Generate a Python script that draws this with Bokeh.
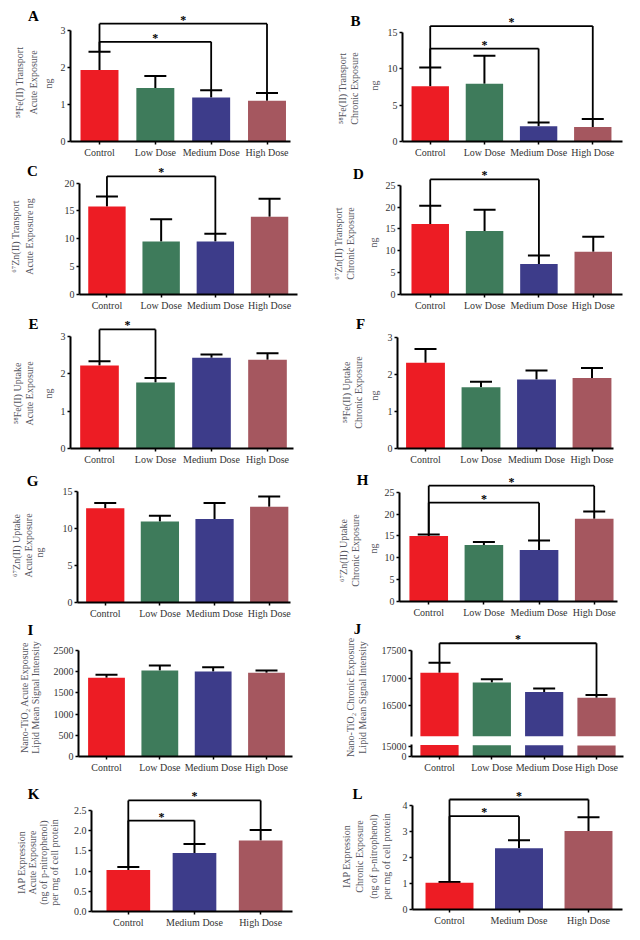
import math
from bokeh.plotting import figure
from bokeh.models import (Range1d, FixedTicker, Whisker, TeeHead, ColumnDataSource,
                          Label, PrintfTickFormatter)
from bokeh.layouts import row, column
from bokeh.embed import file_html
from bokeh.resources import INLINE
from bokeh.core.properties import value

# ---------------- data ----------------
doses4 = ["Control", "Low Dose", "Medium Dose", "High Dose"]
doses3 = ["Control", "Medium Dose", "High Dose"]

colors4 = ["#ED1C24", "#3E7B5B", "#3D3C8A", "#A5575F"]
colors3 = ["#ED1C24", "#3D3C8A", "#A5575F"]

# A  58Fe(II) transport, acute
a_mean = [1.93, 1.44, 1.19, 1.10]
a_sem = [0.49, 0.33, 0.19, 0.21]
a_sig = [[0, 3, 3.18], [0, 2, 2.69]]
a_ticks = [0, 1, 2, 3]

# B  58Fe(II) transport, chronic
b_mean = [7.6, 7.95, 2.1, 2.0]
b_sem = [2.6, 3.85, 0.5, 1.1]
b_sig = [[0, 3, 15.9], [0, 2, 12.8]]
b_ticks = [0, 5, 10, 15]

# C  67Zn(II) transport, acute
c_mean = [15.8, 9.5, 9.5, 13.95]
c_sem = [1.8, 4.0, 1.4, 3.25]
c_sig = [[0, 2, 21.2]]
c_ticks = [0, 5, 10, 15, 20]

# D  67Zn(II) transport, chronic
d_mean = [16.1, 14.5, 7.0, 9.8]
d_sem = [4.2, 4.9, 1.9, 3.4]
d_sig = [[0, 2, 26.3]]
d_ticks = [0, 5, 10, 15, 20, 25]

# E  58Fe(II) uptake, acute
e_mean = [2.22, 1.77, 2.43, 2.38]
e_sem = [0.12, 0.12, 0.09, 0.17]
e_sig = [[0, 1, 3.19]]
e_ticks = [0, 1, 2, 3]

# F  58Fe(II) uptake, chronic
f_mean = [2.31, 1.65, 1.86, 1.90]
f_sem = [0.37, 0.15, 0.24, 0.27]
f_sig = []
f_ticks = [0, 1, 2, 3]

# G  67Zn(II) uptake, acute
g_mean = [12.7, 10.9, 11.26, 12.9]
g_sem = [0.7, 0.8, 2.14, 1.4]
g_sig = []
g_ticks = [0, 5, 10, 15]

# H  67Zn(II) uptake, chronic
h_mean = [15.0, 12.9, 11.8, 18.9]
h_sem = [0.3, 0.7, 2.15, 1.7]
h_sig = [[0, 3, 26.5], [0, 2, 22.6]]
h_ticks = [0, 5, 10, 15, 20, 25]

# I  Nano-TiO2 acute, lipid signal
i_mean = [1855, 2028, 2005, 1973]
i_sem = [71, 118, 102, 55]
i_sig = []
i_ticks = [0, 500, 1000, 1500, 2000, 2500]

# J  Nano-TiO2 chronic, lipid signal (broken axis)
j_mean = [17096, 16916, 16747, 16639]
j_sem = [181, 60, 60, 54]
j_sig = [[0, 3, 17632]]
j_ticks_upper = [16500, 17000, 17500]
j_ticks_lower = [0, 15000]

# K  IAP expression, acute
k_mean = [1.03, 1.45, 1.76]
k_sem = [0.07, 0.22, 0.26]
k_sig = [[0, 2, 2.75], [0, 1, 2.25]]
k_ticks = [0.0, 0.5, 1.0, 1.5, 2.0, 2.5]

# L  IAP expression, chronic
l_mean = [1.03, 2.36, 3.02]
l_sem = [0.03, 0.30, 0.53]
l_sig = [[0, 2, 4.23], [0, 1, 3.59]]
l_ticks = [0, 1, 2, 3, 4]

labels = {
    "A": "\u2075\u2078Fe(II) Transport\nAcute Exposure",
    "B": "\u2075\u2078Fe(II) Transport\nChronic Exposure",
    "C": "\u2076\u2077Zn(II) Transport\nAcute Exposure ng",
    "D": "\u2076\u2077Zn(II) Transport\nChronic Exposure",
    "E": "\u2075\u2078Fe(II) Uptake\nAcute Exposure",
    "F": "\u2075\u2078Fe(II) Uptake\nChronic Exposure",
    "G": "\u2076\u2077Zn(II) Uptake\nAcute Exposure",
    "H": "\u2076\u2077Zn(II) Uptake\nChronic Exposure",
    "I": "Nano-TiO\u2082 Acute Exposure\nLipid Mean Signal Intensity",
    "J": "Nano-TiO\u2082 Chronic Exposure\nLipid Mean Signal Intensity",
    "K": "IAP Expression\nAcute Exposure\n(ng of p-nitrophenol)\nper mg of cell protein",
    "L": "IAP Expression\nChronic Exposure\n(ng of p-nitrophenol)\nper mg of cell protein",
}
unit = "ng"

# ---------------- layout geometry (page pixels) ----------------
FONT = "Liberation Serif"
COLW = 320
ROWS = [(0, 160), (160, 313), (313, 470), (470, 622), (622, 780), (780, 940)]
LEFT, RIGHT = 0, 320
LABEL_COLOR = "#555560"

# ax: y-axis x, xe: x-axis end, c: first/last bar centre, z: zero y,
# ref: (tick value, its y), let: letter position, blk: label block centre,
# unit: "ng" position, ts: room for tick labels, lh: label line height
geom = {
    "A": dict(col=LEFT, row=0, ax=70, xe=290, c=(99, 266.5), z=142, ref=(3, 30), let=(33, 15),
              blk=(26, 82), unit=(48, 83), ts=13, lh=1.25, bw=0.68),
    "B": dict(col=RIGHT, row=0, ax=400, xe=622, c=(428, 592), z=142, ref=(15, 32.3), let=(355, 20),
              blk=(348, 88), unit=(374, 85), ts=16, lh=1.05, bw=0.69),
    "C": dict(col=LEFT, row=1, ax=77, xe=297, c=(104.7, 268.8), z=295, ref=(20, 182.7), let=(32, 170),
              blk=(22, 236), unit=None, ts=16, lh=1.25, bw=0.69),
    "D": dict(col=RIGHT, row=1, ax=398, xe=622, c=(428, 592.5), z=296, ref=(25, 185), let=(358, 173),
              blk=(344, 243), unit=(373, 242), ts=16, lh=1.05, bw=0.69),
    "E": dict(col=LEFT, row=2, ax=70, xe=293, c=(99, 267), z=448, ref=(3, 336), let=(33, 323),
              blk=(23, 393), unit=(48, 393), ts=13, lh=1.1, bw=0.69),
    "F": dict(col=RIGHT, row=2, ax=397, xe=613, c=(425, 591.5), z=448, ref=(3, 336.7), let=(360, 323),
              blk=(352, 392), unit=(374, 395), ts=13, lh=1.1, bw=0.70),
    "G": dict(col=LEFT, row=3, ax=75, xe=290, c=(103, 268.5), z=602, ref=(15, 490.7), let=(32, 480),
              blk=(22, 545), unit=(39, 552), ts=16, lh=1.1, bw=0.70),
    "H": dict(col=RIGHT, row=3, ax=397, xe=617, c=(426.5, 593.5), z=601, ref=(25, 491.7), let=(362, 479),
              blk=(349, 550), unit=(373, 548), ts=16, lh=1.05, bw=0.70),
    "I": dict(col=LEFT, row=4, ax=78, xe=292, c=(106, 266), z=756, ref=(2500, 650), let=(30, 629),
              blk=(29, 697), unit=None, ts=28, lh=1.0, bw=0.69),
    "K": dict(col=LEFT, row=5, ax=90, xe=292, c=(127, 260), z=911, ref=(2.5, 810), let=(33, 793),
              blk=(37, 862), unit=None, ts=20, lh=1.0, bw=0.66),
    "L": dict(col=RIGHT, row=5, ax=412, xe=622, c=(449, 588), z=909, ref=(4, 805), let=(357, 793),
              blk=(366, 856), unit=None, ts=14, lh=1.2, bw=0.69),
}


def style(p):
    p.xgrid.visible = False
    p.ygrid.visible = False
    p.outline_line_color = None
    p.background_fill_color = "white"
    p.border_fill_color = "white"
    for ax in list(p.xaxis) + list(p.yaxis):
        ax.axis_line_width = 2
        ax.axis_line_color = "black"
        ax.major_tick_line_width = 1.5
        ax.major_tick_line_color = "black"
        ax.major_tick_out = 3
        ax.major_tick_in = 0
        ax.minor_tick_out = 0
        ax.minor_tick_in = 0
        ax.major_label_text_font = FONT
        ax.major_label_text_font_size = "10px"
        ax.major_label_text_color = "#333333"
        ax.major_label_standoff = 2


def side_fig(key, w, col, rt, rb, let, blk, unit_xy, lh):
    h = rb - rt
    s = figure(width=w, height=h, x_range=Range1d(0, 1), y_range=Range1d(0, 1),
               min_border=0, x_axis_location=None, y_axis_location=None,
               toolbar_location=None, output_backend="svg")
    s.grid.visible = False
    s.outline_line_color = None
    s.border_fill_color = "white"
    s.add_layout(Label(x=let[0] - col, y=rb - let[1], x_units="screen", y_units="screen",
                       text=key, text_font=FONT, text_font_size="15px", text_font_style="bold",
                       text_align="center", text_baseline="middle", text_color="black"))
    s.add_layout(Label(x=blk[0] - col, y=rb - blk[1], x_units="screen", y_units="screen",
                       text=labels[key], angle=math.pi / 2, text_font=FONT, text_font_size="10px",
                       text_line_height=lh, text_align="center", text_baseline="middle",
                       text_color=LABEL_COLOR))
    if unit_xy is not None:
        s.add_layout(Label(x=unit_xy[0] - col, y=rb - unit_xy[1], x_units="screen", y_units="screen",
                           text=unit, angle=math.pi / 2, text_font=FONT, text_font_size="10px",
                           text_line_height=1.0, text_align="center", text_baseline="middle",
                           text_color=LABEL_COLOR))
    # wrapped in a column so its frame is not aligned with the neighbouring plot
    return column(s)


def xrange_for(n, ax, xe, c):
    c0, cn = c
    s = (cn - c0) / (n - 1)
    return Range1d(-(c0 - ax) / s, (n - 1) + (xe - cn) / s)


def draw_bars(p, cats, means, sems, sig, colors, bw):
    n = len(cats)
    xs = list(range(n))
    p.vbar(x=xs, top=means, bottom=0, width=bw, fill_color=colors, line_color=None)
    tops = [m + e for m, e in zip(means, sems)]
    src = ColumnDataSource(dict(x=xs, lo=means, hi=tops))
    p.add_layout(Whisker(source=src, base="x", lower="lo", upper="hi", dimension="height",
                         line_width=2, line_color="black",
                         upper_head=TeeHead(size=22, line_width=2, line_color="black"),
                         lower_head=None))
    for a, b, h in sig:
        p.segment(x0=[a, a, b], y0=[h, h, h], x1=[b, a, b], y1=[h, tops[a], tops[b]],
                  line_width=1.8, line_color="black")
        p.text(x=[(a + b) / 2], y=[h], text=["*"], text_font=value(FONT),
               text_font_size="12px", text_font_style="bold", text_align="center",
               text_baseline="middle", y_offset=-4, text_color="black")


def set_xaxis(p, cats):
    p.xaxis.ticker = FixedTicker(ticks=list(range(len(cats))))
    p.xaxis.major_label_overrides = {i: c for i, c in enumerate(cats)}


def panel(key, cats, means, sems, sig, ticks, colors, fmt=None):
    g = geom[key]
    rt, rb = ROWS[g["row"]]
    n = len(cats)
    side_w = int(round(g["ax"] - g["col"] - g["ts"]))
    main_w = COLW - side_w
    frame_top = rt + 2
    rv, ry = g["ref"]
    ppu = (g["z"] - ry) / rv
    yend = (g["z"] - frame_top) / ppu
    mbl = int(round(g["ax"] - g["col"])) - side_w
    fw = int(round(g["xe"] - g["ax"]))
    p = figure(width=main_w, height=rb - rt, x_range=xrange_for(n, g["ax"], g["xe"], g["c"]),
               y_range=Range1d(0, yend),
               min_border_left=mbl, min_border_right=main_w - mbl - fw,
               min_border_top=2, min_border_bottom=int(round(rb - g["z"])),
               toolbar_location=None, output_backend="svg")
    draw_bars(p, cats, means, sems, sig, colors, g["bw"])
    set_xaxis(p, cats)
    p.yaxis.ticker = FixedTicker(ticks=ticks)
    p.yaxis.bounds = (0, ticks[-1])
    if fmt:
        p.yaxis.formatter = fmt
    style(p)
    s = side_fig(key, side_w, g["col"], rt, rb, g["let"], g["blk"], g["unit"], g["lh"])
    return row(s, column(p))


pA = panel("A", doses4, a_mean, a_sem, a_sig, a_ticks, colors4)
pB = panel("B", doses4, b_mean, b_sem, b_sig, b_ticks, colors4)
pC = panel("C", doses4, c_mean, c_sem, c_sig, c_ticks, colors4)
pD = panel("D", doses4, d_mean, d_sem, d_sig, d_ticks, colors4)
pE = panel("E", doses4, e_mean, e_sem, e_sig, e_ticks, colors4)
pF = panel("F", doses4, f_mean, f_sem, f_sig, f_ticks, colors4)
pG = panel("G", doses4, g_mean, g_sem, g_sig, g_ticks, colors4)
pH = panel("H", doses4, h_mean, h_sem, h_sig, h_ticks, colors4)
pI = panel("I", doses4, i_mean, i_sem, i_sig, i_ticks, colors4)
pK = panel("K", doses3, k_mean, k_sem, k_sig, k_ticks, colors3, PrintfTickFormatter(format="%.1f"))
pL = panel("L", doses3, l_mean, l_sem, l_sig, l_ticks, colors3)

# ---------------- J: broken y axis (two stacked plots) ----------------
j_rt, j_rb = ROWS[4]
j_ax, j_xe, j_c = 411, 623, (439, 596)
J_SIDE = j_ax - RIGHT - 33
J_W = COLW - J_SIDE
j_x = xrange_for(4, j_ax, j_xe, j_c)
j_mbl = j_ax - (RIGHT + J_SIDE)
j_mbr = J_W - j_mbl - (j_xe - j_ax)

# upper segment: 17500 at y=650, 16500 at y=705, frame 624..736
up_ppu = (705 - 650) / 1000.0
up_start = 16500 - (736 - 705) / up_ppu
up_end = 16500 + (705 - 624) / up_ppu
pJu = figure(width=J_W, height=740 - j_rt, x_range=j_x, y_range=Range1d(up_start, up_end),
             min_border_left=j_mbl, min_border_right=j_mbr, min_border_top=2, min_border_bottom=4,
             x_axis_location=None, toolbar_location=None, output_backend="svg")
draw_bars(pJu, doses4, j_mean, j_sem, j_sig, colors4, 0.73)
pJu.yaxis.ticker = FixedTicker(ticks=j_ticks_upper)
pJu.yaxis.bounds = (up_start, j_ticks_upper[-1])
style(pJu)

# lower segment: 0 at y=756, 15000 at y=746, frame 744..756
lo_ppu = (756 - 746) / 15000.0
lo_end = (756 - 744) / lo_ppu
pJl = figure(width=J_W, height=j_rb - 740, x_range=j_x, y_range=Range1d(0, lo_end),
             min_border_left=j_mbl, min_border_right=j_mbr, min_border_top=4,
             min_border_bottom=j_rb - 756,
             toolbar_location=None, output_backend="svg")
pJl.vbar(x=list(range(4)), top=j_mean, bottom=0, width=0.73, fill_color=colors4, line_color=None)
set_xaxis(pJl, doses4)
pJl.yaxis.ticker = FixedTicker(ticks=j_ticks_lower)
style(pJl)

pJside = side_fig("J", J_SIDE, RIGHT, j_rt, j_rb, (357, 628), (356, 697), None, 1.15)
pJ = row(pJside, column(pJu, pJl))

layout = column(
    row(pA, pB),
    row(pC, pD),
    row(pE, pF),
    row(pG, pH),
    row(pI, pJ),
    row(pK, pL),
)

open("out.html", "w").write(file_html(layout, INLINE))
